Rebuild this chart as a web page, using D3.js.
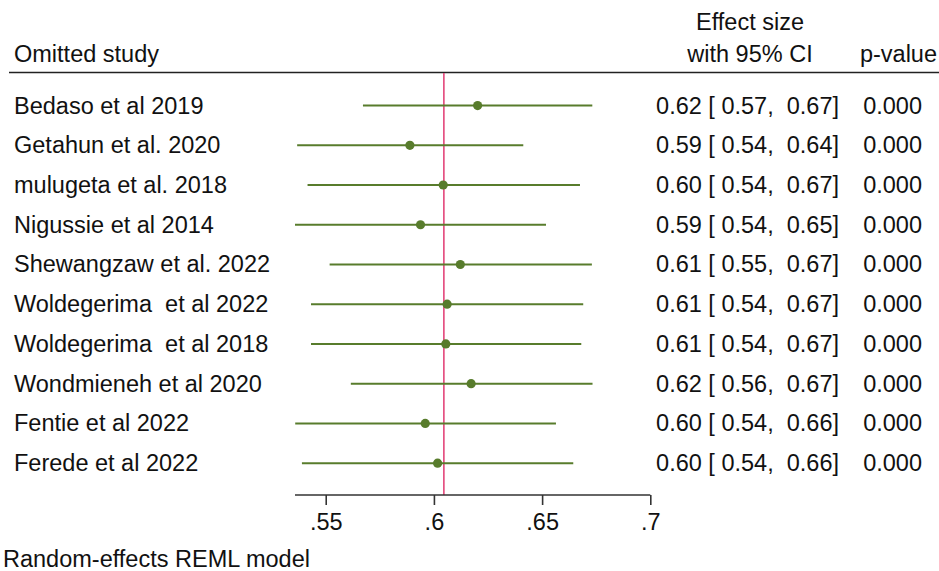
<!DOCTYPE html>
<html><head><meta charset="utf-8">
<script src="https://cdn.jsdelivr.net/npm/d3@7/dist/d3.min.js"></script>
<style>body{margin:0;background:#fff}svg{display:block}text{font-family:"Liberation Sans",Arial,sans-serif;fill:#111;white-space:pre}</style>
</head><body>
<svg id="c" width="939" height="571"></svg>
<script>
const studies = ["Bedaso et al 2019","Getahun et al. 2020","mulugeta et al. 2018","Nigussie et al 2014","Shewangzaw et al. 2022","Woldegerima  et al 2022","Woldegerima  et al 2018","Wondmieneh et al 2020","Fentie et al 2022","Ferede et al 2022"];
const est   = [0.6202,0.5889,0.6043,0.5938,0.6122,0.6061,0.6055,0.6172,0.5960,0.6017];
const lower = [0.5672,0.5368,0.5416,0.5358,0.5518,0.5432,0.5432,0.5616,0.5359,0.5390];
const upper = [0.6732,0.6413,0.6675,0.6518,0.6730,0.6690,0.6681,0.6733,0.6564,0.6644];
const estLabel = ["0.62","0.59","0.60","0.59","0.61","0.61","0.61","0.62","0.60","0.60"];
const loLabel  = ["0.57","0.54","0.54","0.54","0.55","0.54","0.54","0.56","0.54","0.54"];
const hiLabel  = ["0.67","0.64","0.67","0.65","0.67","0.67","0.67","0.67","0.66","0.66"];
const pLabel   = ["0.000","0.000","0.000","0.000","0.000","0.000","0.000","0.000","0.000","0.000"];
const overall = 0.6046;
const ticks = [0.55,0.60,0.65,0.70];
const tickLabels = [".55",".6",".65",".7"];

const svg = d3.select("#c");
const FS = 23.5;
const x = d3.scaleLinear().domain([d3.min(lower), 0.70]).range([295, 650.3]);
const y = d3.scaleBand().domain(studies).range([85.7, 483]).paddingInner(0).paddingOuter(0);
const yc = d => y(d) + y.bandwidth()/2;
const green = "#587c2c", red = "#e3457a";

// headers
svg.append("text").attr("x",14).attr("y",62).attr("font-size",FS).text("Omitted study");
svg.append("text").attr("x",750).attr("y",30).attr("font-size",FS).attr("text-anchor","middle").text("Effect size");
svg.append("text").attr("x",750).attr("y",62).attr("font-size",FS).attr("text-anchor","middle").text("with 95% CI");
svg.append("text").attr("x",937).attr("y",62).attr("font-size",FS).attr("text-anchor","end").text("p-value");
svg.append("line").attr("x1",9).attr("x2",939).attr("y1",72.5).attr("y2",72.5).attr("stroke","#222").attr("stroke-width",1.6);

// overall line
svg.append("line").attr("x1",x(overall)).attr("x2",x(overall)).attr("y1",73).attr("y2",495).attr("stroke",red).attr("stroke-width",1.6);

// rows
const g = svg.append("g");
studies.forEach((s,i)=>{
  const cy = yc(s);
  g.append("line").attr("x1",x(lower[i])).attr("x2",x(upper[i])).attr("y1",cy).attr("y2",cy).attr("stroke",green).attr("stroke-width",2);
  g.append("circle").attr("cx",x(est[i])).attr("cy",cy).attr("r",4.6).attr("fill",green);
  g.append("text").attr("x",14).attr("y",cy+8).attr("font-size",FS).text(s);
  g.append("text").attr("x",839).attr("y",cy+8).attr("font-size",FS).attr("text-anchor","end")
    .text(`${estLabel[i]} [ ${loLabel[i]},  ${hiLabel[i]}]`);
  g.append("text").attr("x",922).attr("y",cy+8).attr("font-size",FS).attr("text-anchor","end").text(pLabel[i]);
});

// axis
const axis = d3.axisBottom(x).tickValues(ticks).tickSize(10).tickFormat((d,i)=>tickLabels[i]);
const ag = svg.append("g").attr("transform","translate(0,495)").call(axis);
ag.select(".domain").attr("stroke","#333").attr("stroke-width",1.6).attr("d",`M${x.range()[0]},0H${x.range()[1]}`);
ag.selectAll(".tick line").attr("stroke","#333").attr("stroke-width",1.6);
ag.selectAll(".tick text").attr("font-size",FS).attr("fill","#111").attr("dy",0).attr("y",35).style("font-family","'Liberation Sans',Arial,sans-serif");

svg.append("text").attr("x",3).attr("y",567).attr("font-size",FS).text("Random-effects REML model");
</script>
</body></html>
